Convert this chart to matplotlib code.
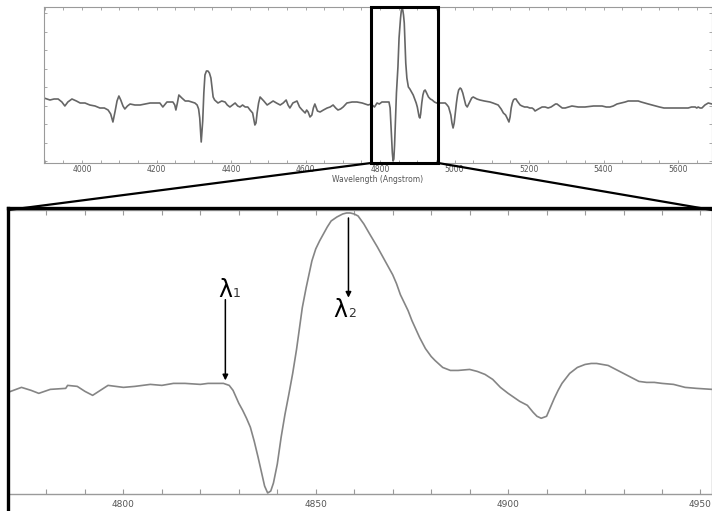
import numpy as np
import matplotlib
matplotlib.use("Agg")
from matplotlib import pyplot as plt
from matplotlib.patches import Rectangle, ConnectionPatch
from matplotlib.lines import Line2D
from matplotlib.ticker import MultipleLocator

# full spectrum (top panel), wavelength in Angstrom, relative flux
wave_full = [3898, 3906, 3914, 3925, 3936, 3946, 3954, 3962, 3973, 3985,
             3995, 4008, 4021, 4035, 4048, 4060, 4070, 4077, 4083, 4089,
             4094, 4099, 4104, 4110, 4115, 4122, 4129, 4142, 4156, 4170,
             4183, 4196, 4209, 4217, 4228, 4237, 4244, 4249, 4252, 4256,
             4260, 4268, 4277, 4286, 4295, 4303, 4309, 4313, 4316, 4320,
             4324, 4327, 4330, 4334, 4338, 4342, 4346, 4349, 4352, 4356,
             4365, 4375, 4384, 4390, 4397, 4404, 4411, 4418, 4424, 4431,
             4438, 4445, 4451, 4458, 4464, 4467, 4470, 4474, 4478, 4483,
             4488, 4497, 4505, 4513, 4522, 4532, 4540, 4548, 4553, 4558,
             4566, 4577, 4584, 4591, 4599, 4603, 4607, 4612, 4617, 4621,
             4625, 4632, 4639, 4648, 4658, 4666, 4674, 4681, 4687, 4694,
             4701, 4711, 4725, 4738, 4752, 4768, 4776, 4785, 4792, 4798,
             4805, 4815, 4824, 4827, 4829, 4831, 4833, 4835, 4837, 4839,
             4841, 4844, 4848, 4851, 4855, 4857, 4859, 4861, 4863, 4865,
             4867, 4869, 4872, 4876, 4880, 4883, 4889, 4893, 4897, 4900,
             4903, 4905, 4907, 4909, 4912, 4915, 4918, 4921, 4925, 4930,
             4935, 4940, 4946, 4952, 4963, 4975, 4980, 4984, 4987, 4990,
             4993, 4996, 4999, 5002, 5005, 5008, 5011, 5015, 5018, 5022,
             5026, 5030, 5034, 5038, 5042, 5046, 5050, 5055, 5060, 5068,
             5080, 5095, 5103, 5110, 5117, 5121, 5125, 5128, 5131, 5134,
             5137, 5141, 5146, 5149, 5152, 5155, 5158, 5161, 5165, 5168,
             5172, 5176, 5181, 5188, 5195, 5202, 5208, 5212, 5216, 5225,
             5235, 5243, 5251, 5259, 5267, 5271, 5275, 5282, 5289, 5297,
             5306, 5315, 5332, 5350, 5373, 5396, 5407, 5417, 5426, 5436,
             5447, 5458, 5466, 5475, 5484, 5493, 5501, 5510, 5520, 5530,
             5540, 5550, 5562, 5573, 5587, 5600, 5614, 5627, 5636, 5646,
             5650, 5654, 5659, 5664, 5672, 5681, 5691]
flux_full = [65, 64, 63, 64, 64, 61, 57, 61, 64, 62,
             60, 60, 58, 57, 55, 55, 53, 49, 41, 52,
             62, 67, 63, 57, 54, 57, 59, 58, 58, 59,
             60, 60, 60, 56, 61, 61, 61, 58, 53, 60,
             68, 65, 62, 62, 61, 60, 58, 54, 45, 21,
             42, 70, 88, 92, 92, 90, 85, 75, 66, 63,
             60, 62, 61, 58, 56, 58, 60, 57, 56, 58,
             56, 56, 53, 50, 38, 40, 50, 60, 66, 64,
             62, 58, 60, 62, 60, 58, 60, 63, 58, 55,
             60, 62, 56, 53, 50, 53, 51, 46, 48, 55,
             59, 52, 51, 53, 55, 56, 58, 55, 53, 54,
             56, 60, 61, 61, 60, 58, 59, 56, 60, 59,
             61, 61, 61, 55, 40, 25, 10, 2, 4, 18,
             40, 70, 96, 125, 145, 152, 155, 153, 148, 140,
             120, 100, 85, 76, 74, 72, 68, 64, 60, 56,
             50, 46, 45, 49, 60, 68, 72, 73, 70, 66,
             64, 63, 61, 60, 60, 60, 58, 56, 52, 48,
             40, 35, 40, 50, 60, 68, 73, 75, 74, 70,
             64, 58, 56, 59, 62, 65, 66, 65, 64, 63,
             62, 61, 60, 59, 58, 56, 54, 52, 50, 49,
             48, 45, 41, 46, 55, 60, 63, 64, 64, 62,
             60, 58, 57, 56, 56, 55, 55, 54, 52, 54,
             56, 56, 55, 56, 58, 59, 59, 57, 55, 55,
             56, 57, 56, 56, 57, 57, 56, 56, 57, 59,
             60, 61, 62, 62, 62, 62, 61, 60, 59, 58,
             57, 56, 55, 55, 55, 55, 55, 55, 56, 56,
             55, 56, 55, 55, 58, 60, 59]

# zoomed region around H-beta (bottom panel)
wave_zoom = [4770, 4773.5, 4776, 4778, 4781, 4785, 4785.5, 4788, 4790, 4792,
             4794, 4796, 4800, 4803, 4807, 4810, 4813, 4816, 4820, 4822,
             4826, 4827.5, 4828.5, 4830, 4831, 4832, 4833, 4834, 4835, 4836,
             4836.7, 4837.5, 4838.3, 4839, 4840, 4841, 4842, 4843, 4844, 4845,
             4846.5, 4847.5, 4849, 4850, 4851, 4852, 4853, 4854, 4855.5, 4857,
             4858, 4859, 4860, 4861, 4862.5, 4864, 4866, 4868, 4870, 4871,
             4872, 4873, 4874, 4875, 4877, 4878.5, 4880, 4881, 4883, 4885,
             4887, 4890, 4892, 4894, 4896, 4898, 4900, 4903, 4905, 4906.5,
             4907.5, 4908.6, 4910, 4911, 4912, 4913, 4914, 4916, 4918, 4920,
             4921.6, 4923, 4926, 4928, 4930, 4932, 4934, 4936, 4938, 4940,
             4943, 4946, 4949, 4953]
flux_zoom = [102, 107, 104, 101, 105, 106, 109, 108, 103, 99,
             104, 109, 107, 108, 110, 109, 111, 111, 110, 111,
             111, 109, 104, 91, 84, 76, 67, 53, 37, 20,
             8, 1, 3, 11, 30, 57, 80, 100, 121, 145,
             187, 207, 234, 246, 254, 261, 268, 274, 278, 281,
             282, 282, 281, 279, 271, 261, 248, 234, 220, 211,
             200, 192, 184, 174, 157, 146, 138, 134, 127, 124,
             124, 125, 123, 120, 115, 107, 101, 93, 89, 82,
             78, 76, 78, 87, 96, 104, 111, 121, 127, 130,
             131, 131, 129, 125, 121, 117, 113, 112, 112, 111,
             110, 107, 106, 105]

lambda1 = 4826.5
lambda2 = 4858.5
box_lo, box_hi = 4776, 4956

W, H = 712, 511
fig = plt.figure(figsize=(W / 100, H / 100), dpi=100)

gray = "#9a9a9a"
lab = "#555555"

# top panel
ax1 = fig.add_axes([44 / W, 1 - 163 / H, (W - 44) / W, 156 / H])
ax1.plot(wave_full, flux_full, color="#666666", lw=1.2)
ax1.set_xlim(3898, 5691)
ax1.set_ylim(0, 156)
for s in ax1.spines.values():
    s.set_color(gray)
    s.set_linewidth(0.8)
ax1.xaxis.set_major_locator(MultipleLocator(200))
ax1.xaxis.set_minor_locator(MultipleLocator(50))
ax1.set_yticks(np.arange(2, 156, 18.5))
ax1.set_yticklabels([])
ax1.tick_params(which="both", direction="in", length=2.5, width=0.6, color=gray,
                top=True, right=True, labelsize=5.5, labelcolor=lab, pad=1.5)
ax1.set_xlabel("Wavelength (Angstrom)", fontsize=5.5, color=lab, labelpad=1)

ax1.add_patch(Rectangle((box_lo, 0), box_hi - box_lo, 156, fill=False,
                        ec="black", lw=2.2, clip_on=False, zorder=5))

# bottom panel
ax2 = fig.add_axes([8 / W, 1 - 494 / H, (W - 8) / W, (494 - 210) / H])
ax2.plot(wave_zoom, flux_zoom, color="#858585", lw=1.2)
ax2.set_xlim(4770, 4953)
ax2.set_ylim(0, 285)
for s in ax2.spines.values():
    s.set_color(gray)
    s.set_linewidth(1.0)
ax2.spines["left"].set_visible(False)
ax2.xaxis.set_major_locator(MultipleLocator(50))
ax2.xaxis.set_minor_locator(MultipleLocator(10))
ax2.set_yticks([])
ax2.tick_params(which="both", direction="in", length=3.5, width=0.8, color=gray,
                top=True, labelsize=6.5, labelcolor=lab, pad=4)

# arrows and labels
ax2.annotate("", xy=(lambda1, 114), xytext=(lambda1, 195),
             arrowprops=dict(arrowstyle="-|>", color="black", lw=1.1,
                             mutation_scale=8, shrinkA=0, shrinkB=0))
ax2.annotate("", xy=(lambda2, 197), xytext=(lambda2, 277),
             arrowprops=dict(arrowstyle="-|>", color="black", lw=1.1,
                             mutation_scale=8, shrinkA=0, shrinkB=0))
ax2.text(4826.4, 198, "λ", fontsize=17, ha="center", va="baseline")
ax2.text(4828.4, 198, "1", fontsize=9, ha="left", va="baseline",
         color="#333333")
ax2.text(4856.5, 178, "λ", fontsize=17, ha="center", va="baseline")
ax2.text(4858.4, 178, "2", fontsize=9, ha="left", va="baseline",
         color="#333333")

# zoom connectors
for xa, xb in [(box_lo, 0), (box_hi, 1)]:
    cp = ConnectionPatch(xyA=(xa, 0), coordsA=ax1.transData,
                         xyB=(xb, 1), coordsB=ax2.transAxes,
                         color="black", lw=1.6)
    fig.add_artist(cp)

# heavy frame of the enlarged view
ytop = 1 - 208 / H
fig.add_artist(Line2D([7.5 / W, 7.5 / W], [0, ytop], color="black", lw=2.4))
fig.add_artist(Line2D([7.5 / W, 1], [ytop, ytop], color="black", lw=2.4))

fig.savefig("out.png", dpi=100)
